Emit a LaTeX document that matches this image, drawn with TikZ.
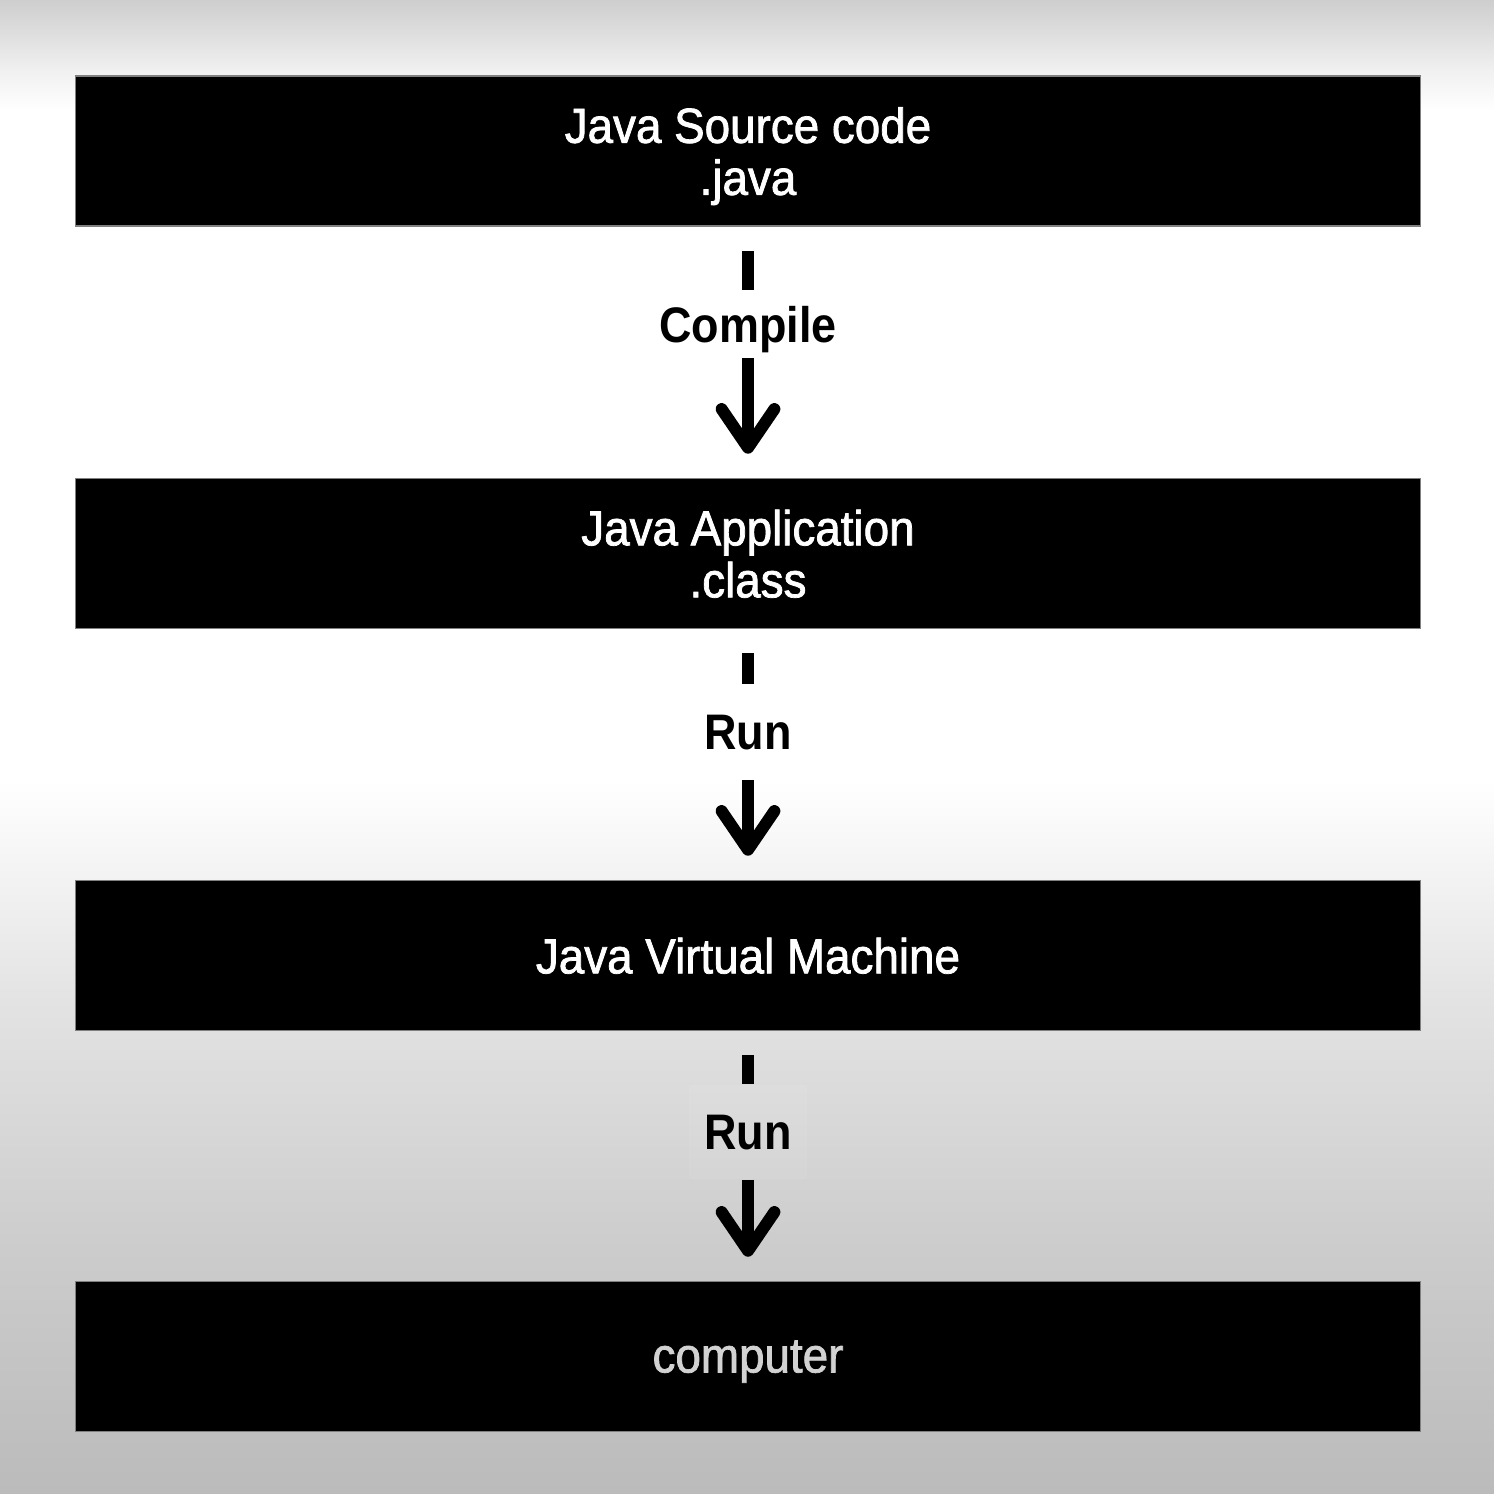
\documentclass[tikz,border=0pt]{standalone}
\usepackage{fontspec}
\setmainfont{Liberation Sans}
\newfontfamily\boxfont{Liberation Sans}[FakeStretch=0.93,FakeBold=1.5]
\newfontfamily\lblfont{Liberation Sans Bold}[FakeStretch=0.9]
\usetikzlibrary{arrows.meta}
\pgfdeclareverticalshading{bgshade}{100bp}{%
  rgb(0bp)=(0.733,0.733,0.733);
  rgb(25bp)=(0.733,0.733,0.733);
  rgb(33.2bp)=(0.80,0.80,0.80);
  rgb(41.5bp)=(0.89,0.89,0.89);
  rgb(48.9bp)=(1,1,1);
  rgb(71.3bp)=(1,1,1);
  rgb(72.7bp)=(0.94,0.94,0.94);
  rgb(73.7bp)=(0.88,0.88,0.88);
  rgb(75bp)=(0.808,0.808,0.808);
  rgb(100bp)=(0.808,0.808,0.808)}
\definecolor{boxedge}{HTML}{808080}
\definecolor{comptext}{HTML}{D2D2D2}
\tikzset{
  jbox/.style={fill=black, draw=boxedge, line width=0.4pt, minimum width=13.44cm,
    minimum height=1.5cm, inner sep=0pt, align=center, text=white, text depth=0pt,
    font=\boxfont\fontsize{14}{14.8}\selectfont},
  lbl/.style={fill=white, fill opacity=0.06, text opacity=1, minimum width=1.17cm,
    inner sep=0pt, text=black, text depth=0pt, font=\lblfont\fontsize{14.2}{16}\selectfont},
  dashseg/.style={line width=3.4pt, black, shorten <=0.24cm},
  flowarrow/.style={line width=3.4pt, black, shorten >=0.24cm,
    -{Straight Barb[length=11pt, width=15pt, round]}}
}
\begin{document}
\begin{tikzpicture}[x=0.01cm, y=-0.01cm]
\useasboundingbox (0,0) rectangle (1494,1494);
\shade[shading=bgshade] (0,0) rectangle (1494,1494);

\node[jbox] (src) at (748,151) {Java Source code\\.java};
\node[jbox] (app) at (748,553.5) {Java Application\\.class};
\node[jbox] (jvm) at (748,955.5) {Java Virtual Machine};
\node[jbox, text=comptext] (comp) at (748,1356.5) {computer};

\node[lbl, minimum height=0.67cm] (l1) at (748,324) {Compile};
\node[lbl, minimum height=0.94cm] (l2) at (748,732) {Run};
\node[lbl, minimum height=0.94cm] (l3) at (748,1132) {Run};

\draw[dashseg] (src.south) -- (l1.north);
\draw[flowarrow] (l1.south) -- (app.north);
\draw[dashseg] (app.south) -- (l2.north);
\draw[flowarrow] (l2.south) -- (jvm.north);
\draw[dashseg] (jvm.south) -- (l3.north);
\draw[flowarrow] (l3.south) -- (comp.north);
\end{tikzpicture}
\end{document}
